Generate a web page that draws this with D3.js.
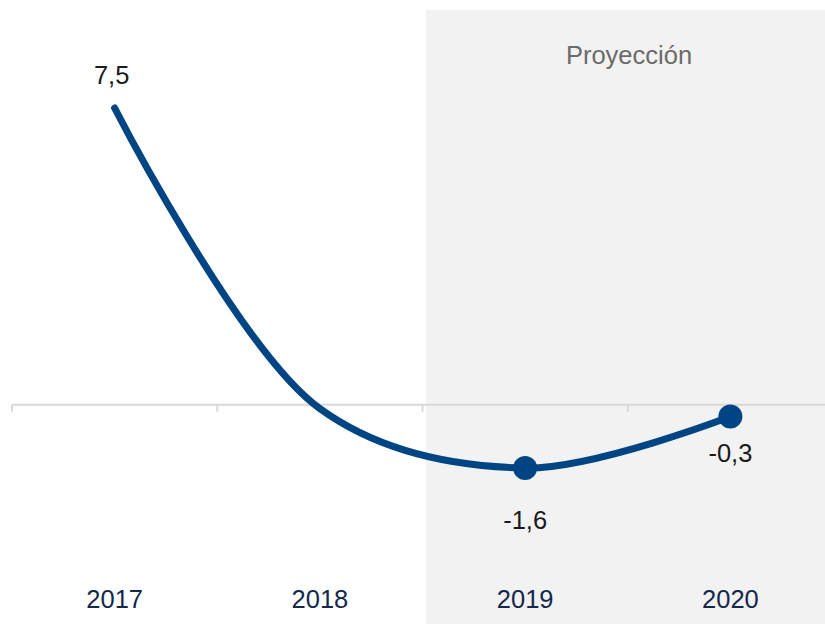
<!DOCTYPE html>
<html>
<head>
<meta charset="utf-8">
<script src="https://cdn.jsdelivr.net/npm/d3@7"></script>
<style>
  body { margin: 0; background: #fff; }
  svg text { font-family: "Liberation Sans", Arial, sans-serif; }
</style>
</head>
<body>
<div class="canvas"></div>
<script>
// data
const years = ['2017', '2018', '2019', '2020'];
const values = [7.5, -0.1, -1.6, -0.3];
const labels = ['7,5', '', '-1,6', '-0,3'];
const projectionYears = ['2019', '2020'];
const shadeTitle = 'Proyección';

const width = 825;
const height = 624;

const svg = d3.select('.canvas')
    .append('svg')
    .attr('width', width)
    .attr('height', height);

const x = d3.scaleBand()
    .domain(years)
    .range([12, 833]);

const y = d3.scaleLinear()
    .domain([-1.6, 7.5])
    .range([468, 108]);

// projection shading
const shadeX = x(projectionYears[0]) + 3.5;
svg.append('rect')
    .attr('x', shadeX)
    .attr('y', 10)
    .attr('width', width - shadeX)
    .attr('height', height - 10)
    .attr('fill', '#f2f2f2');

svg.append('text')
    .attr('x', 629)
    .attr('y', 64)
    .attr('text-anchor', 'middle')
    .attr('fill', '#6b6b6b')
    .style('font-size', '25.5px')
    .text(shadeTitle);

// zero axis with ticks between categories
const axisGroup = svg.append('g')
    .attr('transform', `translate(0, ${y(0)})`);

axisGroup.append('line')
    .attr('x1', 12)
    .attr('x2', width)
    .attr('stroke', '#d9d9d9')
    .attr('stroke-width', 2);

axisGroup.selectAll('line.tick')
    .data(years)
    .enter()
    .append('line')
    .attr('class', 'tick')
    .attr('x1', d => x(d))
    .attr('x2', d => x(d))
    .attr('y1', 0)
    .attr('y2', 7)
    .attr('stroke', '#d9d9d9')
    .attr('stroke-width', 2);

// category labels at bottom
const xAxis = d3.axisBottom(x).tickSize(0).tickPadding(0);
const xAxisGroup = svg.append('g')
    .attr('transform', 'translate(0, 590)')
    .call(xAxis);
xAxisGroup.select('.domain').remove();
xAxisGroup.selectAll('text')
    .attr('fill', '#13284b')
    .style('font-size', '25.5px')
    .style('font-family', '"Liberation Sans", Arial, sans-serif');

// line
const points = years.map((d, i) => ({ year: d, value: values[i], label: labels[i] }));
const line = d3.line()
    .x(d => x(d.year) + x.bandwidth() / 2)
    .y(d => y(d.value))
    .curve(d3.curveCatmullRom.alpha(0.5));

svg.append('path')
    .datum(points)
    .attr('d', line)
    .attr('fill', 'none')
    .attr('stroke', '#004583')
    .attr('stroke-width', 7)
    .attr('stroke-linecap', 'round');

// markers on projection points
svg.selectAll('circle')
    .data(points.filter(d => projectionYears.includes(d.year)))
    .enter()
    .append('circle')
    .attr('cx', d => x(d.year) + x.bandwidth() / 2)
    .attr('cy', d => y(d.value))
    .attr('r', 12)
    .attr('fill', '#004583');

// value labels
const labelDy = { '2017': -24, '2019': 61, '2020': 45 };
svg.selectAll('text.value')
    .data(points.filter(d => d.label))
    .enter()
    .append('text')
    .attr('class', 'value')
    .attr('x', d => x(d.year) + x.bandwidth() / 2 - (d.year === '2017' ? 3 : 0))
    .attr('y', d => y(d.value) + labelDy[d.year])
    .attr('text-anchor', 'middle')
    .attr('fill', '#1a1a1a')
    .style('font-size', '25.5px')
    .text(d => d.label);
</script>
</body>
</html>
